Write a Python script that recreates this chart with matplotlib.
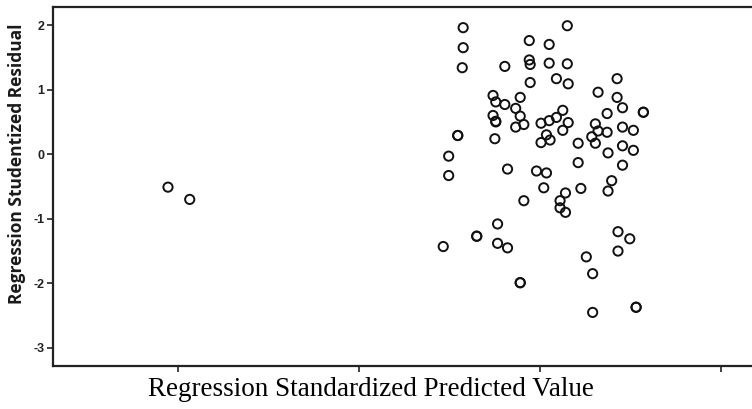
import matplotlib
matplotlib.use("Agg")
import matplotlib.pyplot as plt

# standardized predicted value (x) and studentized residual (y)
pred = [-4.11, -3.87,
        -0.85, -0.85, -0.86, 0.30, -0.12, 0.10, -0.39, -0.12, -0.11, 0.10, 0.30, 0.85,
        -0.11, 0.18, 0.31, 0.64, -0.52, -0.49, -0.39, -0.22, 0.85, -0.27, 0.91, 1.14, 1.14,
        0.25, -0.52, -0.22, 0.74, -0.49, -0.49, -0.18, -0.27, 0.01, 0.10, 0.18, 0.31, 0.25,
        0.61, 0.64, 0.74, 0.91, 1.03, 0.57, 0.07, 0.01, 0.11, 0.42, 0.61, -0.91, -0.91,
        -0.50, -1.01, -1.01, 0.75, 0.91, 1.03, 0.42, 0.91, -0.36, -0.04, 0.07, 0.79, 0.04,
        0.45, 0.75, 0.28, -0.18, 0.22, 0.22, 0.28, -0.47, -0.70, -0.70, -1.07, -0.47, -0.36,
        0.86, 0.99, 0.86, 0.51, 0.58, -0.22, -0.22, 0.58, 1.06, 1.06]
resid = [-0.51, -0.70,
         1.96, 1.65, 1.34, 1.99, 1.76, 1.70, 1.36, 1.46, 1.39, 1.41, 1.40, 1.17,
         1.11, 1.17, 1.09, 0.96, 0.91, 0.81, 0.77, 0.88, 0.88, 0.71, 0.72, 0.65, 0.65,
         0.68, 0.60, 0.59, 0.63, 0.51, 0.50, 0.46, 0.42, 0.48, 0.52, 0.57, 0.49, 0.37,
         0.47, 0.36, 0.34, 0.42, 0.37, 0.27, 0.30, 0.18, 0.22, 0.17, 0.17, 0.29, 0.29,
         0.24, -0.03, -0.33, 0.02, 0.13, 0.06, -0.13, -0.17, -0.23, -0.26, -0.29, -0.41, -0.52,
         -0.53, -0.57, -0.60, -0.72, -0.72, -0.83, -0.90, -1.08, -1.27, -1.27, -1.43, -1.38, -1.45,
         -1.20, -1.31, -1.50, -1.59, -1.85, -1.99, -1.99, -2.45, -2.37, -2.37]

yticks = [2, 1, 0, -1, -2, -3]
xticks = [-4, -2, 0, 2]

W, H = 752, 409
fig = plt.figure(figsize=(W / 100, H / 100), dpi=100)
ax = fig.add_axes([53 / W, 43 / H, 1 - 53 / W, 359 / H])

ax.scatter(pred, resid, s=44, facecolors="none", edgecolors="#111111", linewidths=1.4, zorder=3)

ax.set_xlim(-5.38, 2.34)
ax.set_ylim(-3.28, 2.28)
ax.set_yticks(yticks)
ax.set_yticklabels([str(t) for t in yticks], fontsize=9, fontweight="bold",
                   family="Liberation Sans", color="#222222")
ax.set_xticks(xticks)
ax.set_xticklabels([])
ax.tick_params(axis="both", direction="out", length=4, width=1.2, color="#222222", pad=2)

for side in ["left", "bottom", "top"]:
    ax.spines[side].set_linewidth(1.6)
    ax.spines[side].set_color("#222222")
ax.spines["right"].set_visible(False)

fig.text(17 / W, 1 - 164 / H, "Regression Studentized Residual", rotation=90,
         ha="center", va="center", fontsize=12.5, fontweight="bold",
         family="Open Sans", color="#1a1a1a")
fig.text(371 / W, 1 - 389 / H, "Regression Standardized Predicted Value",
         ha="center", va="center", fontsize=19.5, family="Liberation Serif", color="black")

plt.savefig("out.png", dpi=100)
